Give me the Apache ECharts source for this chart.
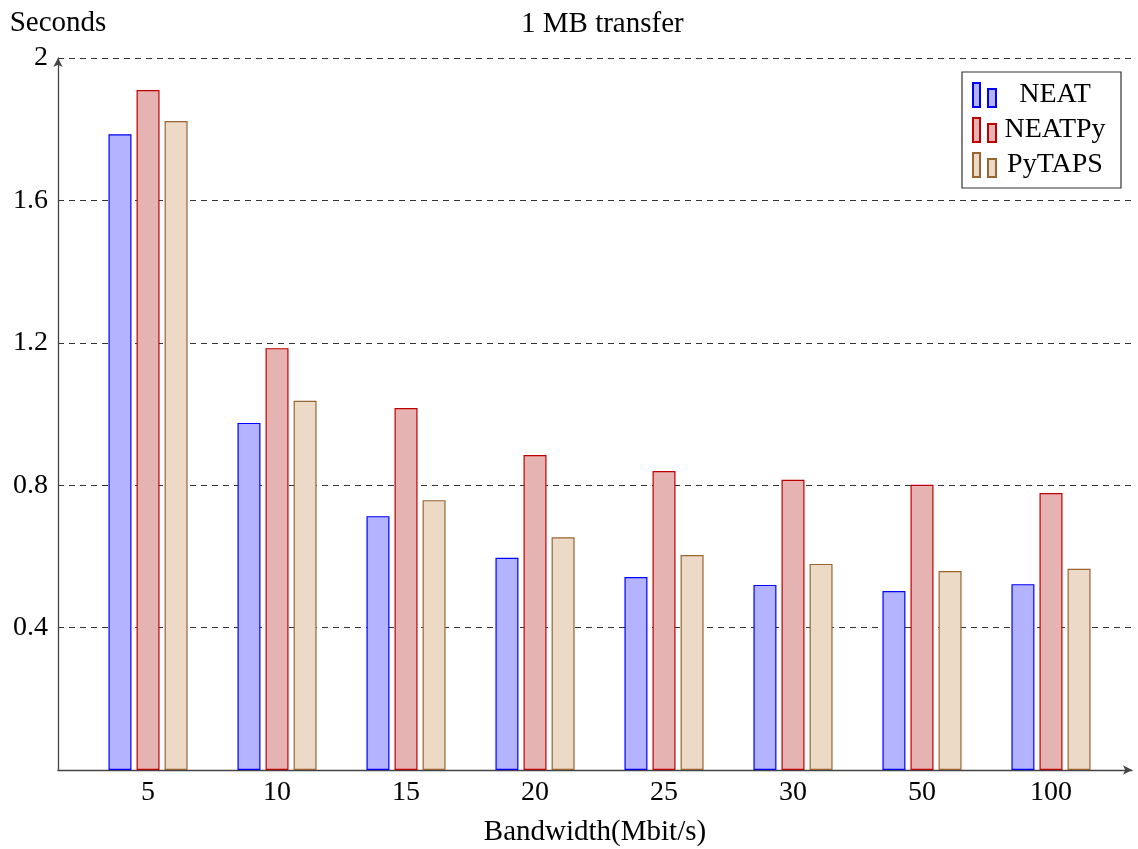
<!DOCTYPE html>
<html>
<head>
<meta charset="utf-8">
<script src="https://cdn.jsdelivr.net/npm/echarts@6/dist/echarts.min.js"></script>
<style>
  html, body { margin: 0; padding: 0; background: #fff; }
  #main { width: 1138px; height: 849px; }
</style>
</head>
<body>
<div id="main"></div>
<script>
var categories = ['5', '10', '15', '20', '25', '30', '50', '100'];
var neat   = [1.786, 0.975, 0.713, 0.596, 0.542, 0.520, 0.503, 0.522];
var neatPy = [1.910, 1.185, 1.017, 0.885, 0.840, 0.815, 0.801, 0.778];
var pyTaps = [1.823, 1.037, 0.758, 0.654, 0.604, 0.579, 0.559, 0.565];
var yTicks = [0.4, 0.8, 1.2, 1.6, 2];

var font = 'Liberation Serif';

// 把类别放到数值轴上，这样左右可以留出和原图一样的空白
function toPoints(arr) {
  return arr.map(function (v, i) { return [i, v]; });
}

// 图例里的两个小柱子
var legendIcon = 'path://M0,0 h7 v24 h-7 Z M15,6 h8 v18 h-8 Z';

function makeSeries(name, data, fill, stroke) {
  return {
    name: name,
    type: 'bar',
    data: toPoints(data),
    barWidth: 23,
    barGap: '22%',
    itemStyle: { color: fill, borderColor: stroke, borderWidth: 1.2 },
    emphasis: { disabled: true }
  };
}

var myChart = echarts.init(document.getElementById('main'));
var option = {
  animation: false,
  textStyle: { fontFamily: font, color: '#000' },
  title: {
    text: '1 MB transfer',
    left: 516,
    top: 5,
    textStyle: { fontFamily: font, fontSize: 29, fontWeight: 'normal', color: '#000' }
  },
  legend: {
    left: 962,
    top: 72,
    orient: 'vertical',
    icon: legendIcon,
    itemWidth: 23,
    itemHeight: 24,
    itemGap: 7,
    padding: [9, 12, 9, 10],
    borderColor: '#333',
    borderWidth: 1.2,
    formatter: '{a|{name}}',
    textStyle: {
      fontFamily: font, fontSize: 28, color: '#000', lineHeight: 24,
      rich: { a: { fontFamily: font, fontSize: 28, width: 108, align: 'center', lineHeight: 24 } }
    },
    data: ['NEAT', 'NEATPy', 'PyTAPS']
  },
  grid: { left: 58, right: 6, top: 58, bottom: 79, containLabel: false, outerBoundsMode: 'none' },
  xAxis: {
    type: 'value',
    min: -0.698,
    max: 7.628,
    name: 'Bandwidth(Mbit/s)',
    nameLocation: 'middle',
    nameGap: 48,
    nameTextStyle: { fontFamily: font, fontSize: 29, color: '#000' },
    axisLine: {
      show: true,
      symbol: ['none', 'arrow'],
      symbolSize: [7, 9],
      lineStyle: { color: '#444', width: 1.3 }
    },
    axisTick: { show: false },
    splitLine: { show: false },
    axisLabel: {
      customValues: [0, 1, 2, 3, 4, 5, 6, 7],
      formatter: function (v) { return categories[Math.round(v)]; },
      fontFamily: font,
      fontSize: 28,
      color: '#000',
      margin: 9
    }
  },
  yAxis: {
    type: 'value',
    min: 0,
    max: 2,
    interval: 0.4,
    name: 'Seconds',
    nameLocation: 'end',
    nameGap: 20,
    nameTextStyle: { fontFamily: font, fontSize: 29, color: '#000' },
    axisLine: {
      show: true,
      onZero: false,
      symbol: ['none', 'arrow'],
      symbolSize: [7, 9],
      lineStyle: { color: '#444', width: 1.3 }
    },
    axisTick: { show: false },
    splitLine: {
      show: true,
      lineStyle: { color: '#333', type: [6, 5], width: 1 }
    },
    axisLabel: {
      customValues: yTicks,
      formatter: function (v) { return String(+v.toFixed(1)); },
      fontFamily: font,
      fontSize: 28,
      color: '#000',
      margin: 10,
      padding: [6, 0, 0, 0]
    }
  },
  series: [
    makeSeries('NEAT', neat, '#b3b3ff', '#0000ff'),
    makeSeries('NEATPy', neatPy, '#e6b3b3', '#bf0000'),
    makeSeries('PyTAPS', pyTaps, '#ecd9c6', '#996633')
  ]
};
myChart.setOption(option);
</script>
</body>
</html>
